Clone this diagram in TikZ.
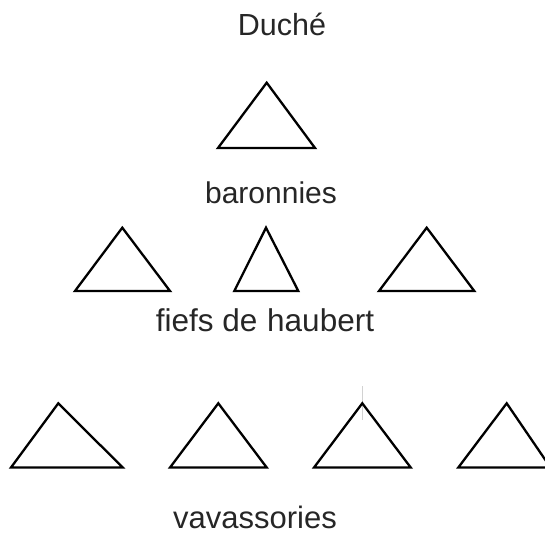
\documentclass[tikz,border=0pt]{standalone}
\usepackage{fontspec}
\setmainfont{Liberation Sans}
\begin{document}
\begin{tikzpicture}[x=1pt,y=-1pt,
  tri/.style={draw=black,line width=2.3pt,line join=miter},
  lbl/.style={anchor=base,inner sep=0pt,text=black!85}]
\useasboundingbox (0,0) rectangle (545,535);
% labels
\node[lbl,font=\fontsize{30.5}{36}\selectfont] (duche) at (282,35) {Duché};
\node[lbl,font=\fontsize{30}{36}\selectfont] (baron) at (271,203) {baronnies};
\node[lbl,font=\fontsize{31.5}{36}\selectfont] (fiefs) at (265,331) {fiefs de\hspace{1pt} haubert};
\node[lbl,font=\fontsize{31}{36}\selectfont] (vavas) at (255,528) {vavassories};
% top triangle
\draw[tri] (266.7,82.7) -- (218,148) -- (315,148) -- cycle;
% middle row
\draw[tri] (122.3,227.7) -- (75,291) -- (170,291) -- cycle;
\draw[tri] (266,227.7) -- (234.3,291) -- (298.3,291) -- cycle;
\draw[tri] (426.7,227.7) -- (379,291) -- (474.3,291) -- cycle;
% bottom row
\draw[gray!35,line width=1.4pt] (362.3,386) -- (362.3,420);
\draw[tri] (58.3,403.3) -- (11,467.5) -- (122.7,467.5) -- cycle;
\draw[tri] (218.3,403.3) -- (170,467.5) -- (266.7,467.5) -- cycle;
\draw[tri] (362.3,403.3) -- (314,467.5) -- (410.7,467.5) -- cycle;
\begin{scope}
\clip (0,0) rectangle (545,535);
\draw[tri] (506.7,403.3) -- (458.3,467.5) -- (550.5,467.5) -- cycle;
\end{scope}
\end{tikzpicture}
\end{document}
